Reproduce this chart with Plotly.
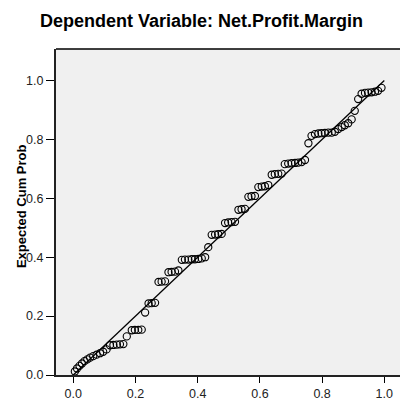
import plotly.graph_objects as go

obs_cum_prob = [
    0.005, 0.012, 0.020, 0.028, 0.036, 0.045, 0.054, 0.064, 0.075, 0.086, 0.096, 0.107,
    0.118, 0.129, 0.140, 0.150, 0.161, 0.172,
    0.188, 0.198, 0.209, 0.220, 0.231,
    0.242, 0.252, 0.263,
    0.274, 0.284, 0.295,
    0.306, 0.316, 0.327, 0.338,
    0.349, 0.359, 0.370, 0.381, 0.391, 0.402, 0.413, 0.424, 0.434,
    0.445, 0.456, 0.466, 0.477,
    0.488, 0.498, 0.509, 0.520,
    0.531, 0.541, 0.552,
    0.563, 0.573, 0.584,
    0.595, 0.606, 0.616, 0.627,
    0.638, 0.648, 0.659, 0.670,
    0.680, 0.691, 0.702, 0.713, 0.723, 0.734, 0.745, 0.756,
    0.766, 0.777, 0.788, 0.798, 0.809, 0.820, 0.831, 0.841, 0.852, 0.863, 0.873, 0.884,
    0.895, 0.905, 0.916, 0.927, 0.938, 0.948, 0.959, 0.970, 0.980, 0.991,
]
exp_cum_prob = [
    0.012, 0.022, 0.031, 0.039, 0.047, 0.053, 0.059, 0.064, 0.069, 0.074, 0.079, 0.087,
    0.101, 0.102, 0.103, 0.104, 0.105, 0.131,
    0.152, 0.153, 0.153, 0.154, 0.212,
    0.243, 0.244, 0.245,
    0.316, 0.317, 0.318,
    0.349, 0.350, 0.351, 0.355,
    0.391, 0.392, 0.392, 0.393, 0.393, 0.394, 0.396, 0.400, 0.434,
    0.476, 0.477, 0.478, 0.479,
    0.516, 0.518, 0.519, 0.520,
    0.561, 0.563, 0.564,
    0.605, 0.607, 0.608,
    0.638, 0.640, 0.641, 0.645,
    0.680, 0.682, 0.683, 0.684,
    0.716, 0.718, 0.719, 0.720, 0.721, 0.723, 0.730, 0.787,
    0.812, 0.818, 0.820, 0.821, 0.822, 0.823, 0.823, 0.826, 0.835, 0.842, 0.848, 0.855,
    0.868, 0.897, 0.937, 0.955, 0.958, 0.959, 0.960, 0.962, 0.965, 0.975,
]
ref_line = [0.0, 1.0]
tick_vals = [0.0, 0.2, 0.4, 0.6, 0.8, 1.0]
tick_text = ["0.0", "0.2", "0.4", "0.6", "0.8", "1.0"]

FONT = "Liberation Sans, Arial, sans-serif"

fig = go.Figure()
fig.add_trace(go.Scatter(
    x=ref_line, y=ref_line, mode="lines",
    line=dict(color="black", width=1.3), hoverinfo="skip", showlegend=False,
))
fig.add_trace(go.Scatter(
    x=obs_cum_prob, y=exp_cum_prob, mode="markers",
    marker=dict(symbol="circle-open", size=7.2, color="black", line=dict(width=1.1, color="black")),
    showlegend=False,
))

fig.update_layout(
    width=400, height=401,
    margin=dict(l=56, r=0, t=49, b=20),
    paper_bgcolor="white",
    plot_bgcolor="#f0f0f0",
    font=dict(family=FONT, size=12.5, color="#222"),
    showlegend=False,
    annotations=[
        dict(text="<b>Dependent Variable: Net.Profit.Margin</b>", xref="paper", yref="paper",
             x=(201.5 - 56) / 344, y=(381 - 20) / 332, xanchor="center", yanchor="middle",
             showarrow=False, font=dict(family=FONT, size=18, color="black")),
        dict(text="<b>Expected Cum Prob</b>", xref="paper", yref="paper",
             x=(21 - 56) / 344, y=(381 - 209) / 332, xanchor="center", yanchor="middle",
             textangle=-90, showarrow=False, font=dict(family=FONT, size=13, color="black")),
    ],
)
fig.update_xaxes(
    range=[-0.0556, (400 - 73.3) / 311],
    tickvals=tick_vals, ticktext=tick_text,
    ticks="outside", ticklen=6, tickwidth=1.2, tickcolor="black",
    showline=True, linecolor="#222", linewidth=2, mirror=False,
    showgrid=False, zeroline=False,
    tickfont=dict(size=12.5, color="#222"),
)
fig.update_yaxes(
    range=[0, 1.107],
    tickvals=tick_vals, ticktext=tick_text,
    ticks="outside", ticklen=8, tickwidth=1.2, tickcolor="black",
    showline=True, linecolor="#222", linewidth=2, mirror=False,
    showgrid=False, zeroline=False,
    tickfont=dict(size=12.5, color="#222"),
)
# top border of the plot frame
fig.add_shape(type="line", xref="paper", yref="paper", x0=0, x1=1, y0=1, y1=1,
              line=dict(color="black", width=1.5))

fig.write_html(
    "out.html",
    config={"displayModeBar": False},
    post_script="document.body.style.margin='0';document.body.style.padding='0';",
)
